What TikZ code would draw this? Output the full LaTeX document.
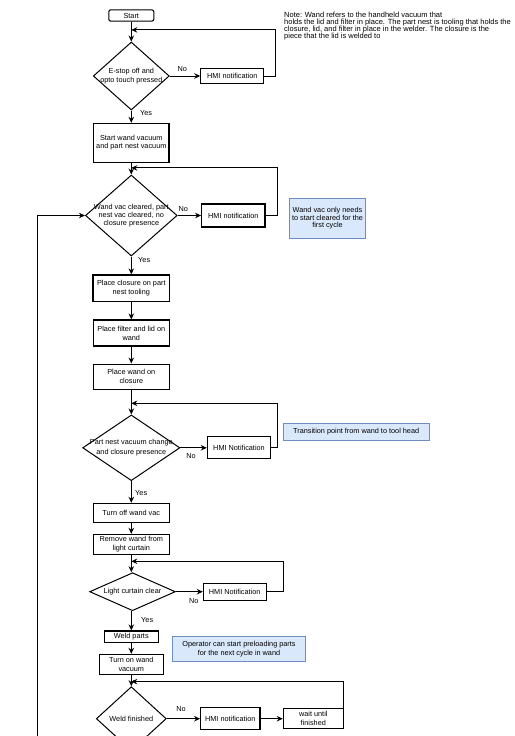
\documentclass[tikz,border=0pt]{standalone}
\usepackage{fontspec}
\setmainfont{Liberation Sans}
\usetikzlibrary{shapes.geometric, positioning, arrows.meta, calc}

\definecolor{notefill}{HTML}{DAE8FC}
\definecolor{noteline}{HTML}{6C8EBF}
\newcommand{\tightlines}{\setlength{\lineskiplimit}{-5pt}}

\begin{document}
\begin{tikzpicture}[
    x=1pt, y=-1pt,
    base/.style={
        font={\fontsize{7.3}{8.8}\selectfont\tightlines},
        align=center
    },
    process/.style={
        base,
        rectangle,
        draw=black,
        line width=1.1pt,
        inner sep=1pt
    },
    decision/.style={
        diamond,
        draw=black,
        line width=1pt,
        inner sep=0pt
    },
    note/.style={
        base,
        rectangle,
        draw=noteline,
        fill=notefill,
        line width=0.7pt,
        inner sep=1pt,
        font={\fontsize{7.3}{7.2}\selectfont\tightlines}
    },
    tag/.style={
        base,
        inner sep=0pt
    },
    arrow/.style={
        -{Stealth[length=6pt, width=5.5pt]},
        line width=0.9pt
    }
]
    \useasboundingbox (0,0) rectangle (514,736);
    \clip (0,0) rectangle (514,736);

    % -- Start and E-stop check --
    \node[process, rounded corners=2pt, minimum width=45pt, minimum height=11.3pt] (start) at (131.3,15.5) {Start};
    \node[decision, minimum width=76pt, minimum height=68pt,
          label={[base, font=\fontsize{7.3}{9.5}\selectfont]center:{E-stop off and\\opto touch pressed}}] (estop) at (131.3,76) {};
    \node[process, minimum width=63pt, minimum height=14.3pt] (hmi1) at (232.3,76) {HMI notification};
    \node[base, anchor=north west, align=left, inner sep=0pt, font={\fontsize{7.5}{6.8}\selectfont\tightlines}] (topnote) at (284,12)
        {Note: Wand refers to the handheld vacuum that\\
         holds the lid and filter in place. The part nest is tooling that holds the\\
         closure, lid, and filter in place in the welder. The closure is the\\
         piece that the lid is welded to};
    \node[tag] (no1) at (182.3,69.3) {No};
    \node[tag] (yes1) at (146,113.3) {Yes};
    \coordinate (join1) at ($(start.south)+(0,8.2)$);

    \draw[arrow] (start) -- (estop);
    \draw[arrow] (estop.east) -- (hmi1.west);
    \draw[arrow] (hmi1.east) -- ++(11,0) |- (join1);

    % -- Vacuum check --
    \node[process, minimum width=75.3pt, minimum height=38.7pt] (startvac) at (131.3,142.7) {Start wand vacuum\\and part nest vacuum};
    \node[decision, minimum width=91.7pt, minimum height=81pt,
          label={[base, font=\fontsize{7.3}{8.3}\selectfont]center:{Wand vac cleared, part\\nest vac cleared, no\\closure presence}}] (vaccheck) at (131.3,215.5) {};
    \node[process, minimum width=63.3pt, minimum height=23pt] (hmi2) at (233.3,215.5) {HMI notification};
    \node[note, minimum width=76.3pt, minimum height=40pt] (note2) at (327.5,218.3) {Wand vac only needs\\to start cleared for the\\first cycle};
    \node[tag] (no2) at (183.3,209.3) {No};
    \node[tag] (yes2) at (144.2,259.7) {Yes};
    \coordinate (join2) at ($(startvac.south)+(0,5.3)$);
    \coordinate (back) at (37.3,760);

    \draw[arrow] (estop) -- (startvac);
    \draw[arrow] (startvac) -- (vaccheck);
    \draw[arrow] (vaccheck.east) -- (hmi2.west);
    \draw[arrow] (hmi2.east) -- ++(12.3,0) |- (join2);
    \draw[arrow] (back) |- (vaccheck.west);

    % -- Loading steps --
    \node[process, minimum width=76.7pt, minimum height=26.7pt] (closure) at (131.3,288.3) {Place closure on part\\nest tooling};
    \node[process, minimum width=76pt, minimum height=26pt] (filter) at (131.3,333) {Place filter and lid on\\wand};
    \node[process, minimum width=76pt, minimum height=25.3pt] (wandon) at (131.3,376.7) {Place wand on\\closure};

    \draw[arrow] (vaccheck) -- (closure);
    \draw[arrow] (closure) -- (filter);
    \draw[arrow] (filter) -- (wandon);

    % -- Part nest check --
    \node[decision, minimum width=97.3pt, minimum height=65.7pt,
          label={[base, font=\fontsize{7.3}{9.5}\selectfont]center:{Part nest vacuum change\\and closure presence}}] (nestcheck) at (131.3,447.8) {};
    \node[process, minimum width=63.3pt, minimum height=22pt] (hmi3) at (239,447.8) {HMI Notification};
    \node[note, minimum width=145.7pt, minimum height=17.3pt] (note3) at (356.2,432) {Transition point from wand to tool head};
    \node[tag] (no3) at (191,455.7) {No};
    \node[tag] (yes3) at (141.2,493.3) {Yes};
    \coordinate (join3) at ($(wandon.south)+(0,13.4)$);

    \draw[arrow] (wandon) -- (nestcheck);
    \draw[arrow] (nestcheck.east) -- (hmi3.west);
    \draw[arrow] (hmi3.east) -- ++(6.6,0) |- (join3);

    % -- Light curtain --
    \node[process, minimum width=76pt, minimum height=19.3pt] (vacoff) at (131.3,513) {Turn off wand vac};
    \node[process, minimum width=76pt, minimum height=19.7pt] (remove) at (131.3,544.2) {Remove wand from\\light curtain};
    \node[decision, minimum width=85.7pt, minimum height=38pt,
          label={[base]center:Light curtain clear}] (curtain) at (132.5,591.7) {};
    \node[process, minimum width=62.7pt, minimum height=17.3pt] (hmi4) at (234.7,591.7) {HMI Notification};
    \node[tag] (no4) at (193.8,600.7) {No};
    \node[tag] (yes4) at (147.2,620) {Yes};
    \coordinate (join4) at ($(remove.south)+(0,6.7)$);

    \draw[arrow] (nestcheck) -- (vacoff);
    \draw[arrow] (vacoff) -- (remove);
    \draw[arrow] (remove.south) -- (remove.south |- curtain.north);
    \draw[arrow] (curtain.east) -- (hmi4.west);
    \draw[arrow] (hmi4.east) -- ++(17.3,0) |- (join4);

    % -- Welding --
    \node[process, minimum width=54.3pt, minimum height=11.7pt] (weld) at (131.3,636.8) {Weld parts};
    \node[process, minimum width=64pt, minimum height=19.7pt] (vacon) at (131.3,664.2) {Turn on wand\\vacuum};
    \node[note, minimum width=132.7pt, minimum height=25.7pt, font=\fontsize{7.3}{8.8}\selectfont] (note4) at (239,648.8) {Operator can start preloading parts\\for the next cycle in wand};
    \node[decision, minimum width=70pt, minimum height=64pt,
          label={[base]center:Weld finished}] (weldcheck) at (131.3,718.7) {};
    \node[process, minimum width=59.3pt, minimum height=22.3pt] (hmi5) at (230.3,718.7) {HMI notification};
    \node[process, minimum width=60pt, minimum height=20pt] (wait) at (313.3,718.7) {wait until\\finished};
    \node[tag] (no5) at (181,709.3) {No};
    \coordinate (join5) at ($(vacon.south)+(0,7)$);

    \draw[arrow] (curtain.south -| weld.north) -- (weld.north);
    \draw[arrow] (weld) -- (vacon);
    \draw[arrow] (vacon) -- (weldcheck);
    \draw[arrow] (weldcheck.east) -- (hmi5.west);
    \draw[arrow] (hmi5) -- (wait);
    \draw[arrow] (wait.east) |- (join5);

\end{tikzpicture}
\end{document}
